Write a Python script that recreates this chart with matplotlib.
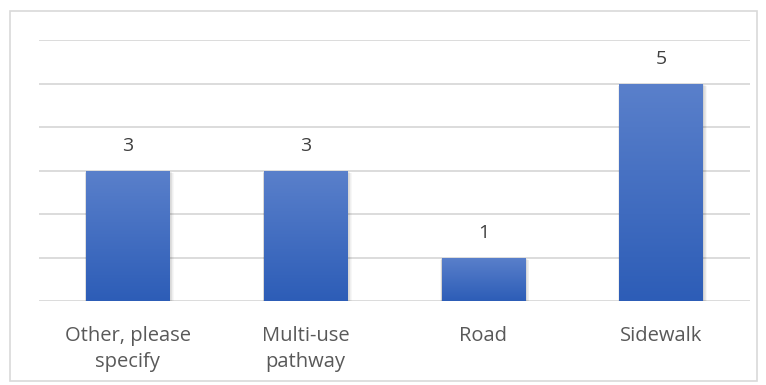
import matplotlib
matplotlib.use("Agg")
import matplotlib.pyplot as plt
import numpy as np
from matplotlib.patches import Rectangle
from matplotlib.colors import LinearSegmentedColormap

categories = ["Other, please\nspecify", "Multi-use\npathway", "Road", "Sidewalk"]
counts = [3, 3, 1, 5]

plt.rcParams['font.family'] = ['Open Sans', 'DejaVu Sans']

fig = plt.figure(figsize=(7.66, 3.85), dpi=100)
fig.patch.set_facecolor("white")

# outer chart frame
fig.add_artist(Rectangle((10 / 766, 1 - 381 / 385), 747 / 766, 370 / 385,
                         transform=fig.transFigure, fill=False,
                         edgecolor="#D9D9D9", linewidth=1.2))

ax = fig.add_axes([39 / 766, 1 - 301 / 385, 711 / 766, 261 / 385])
ax.set_xlim(-0.5, len(categories) - 0.5)
ax.set_ylim(0, 6)
ax.set_yticks(range(0, 7))
ax.yaxis.grid(True, color="#D9D9D9", linewidth=1.3)
ax.set_axisbelow(True)
for s in ax.spines.values():
    s.set_visible(False)
ax.tick_params(axis="both", length=0)
ax.set_yticklabels([])

x = np.arange(len(categories))
width = 0.47

cmap = LinearSegmentedColormap.from_list("bar", ["#2D5DB7", "#5A80CB"])
grad = np.linspace(0, 1, 256).reshape(-1, 1)

for xi, v in zip(x, counts):
    # soft drop shadow
    for k in range(6):
        off = 0.004 + k * 0.004
        ax.add_patch(Rectangle((xi - width / 2 - off * 0.3, -0.02 - k * 0.008),
                               width + off * 1.3, v + 0.0, facecolor="black",
                               alpha=0.03, edgecolor="none", zorder=2))
    bar = Rectangle((xi - width / 2, 0), width, v, facecolor="none",
                    edgecolor="none", zorder=3)
    ax.add_patch(bar)
    im = ax.imshow(grad, cmap=cmap, aspect="auto", origin="lower",
                   extent=(xi - width / 2, xi + width / 2, 0, v), zorder=3)
    im.set_clip_path(bar)
    ax.text(xi, v + 0.56, str(v), ha="center", va="center",
            fontsize=14, color="#404040")

ax.set_xlim(-0.5, len(categories) - 0.5)
ax.set_ylim(0, 6)
ax.set_xticks(x)
ax.set_xticklabels(categories, fontsize=14.5, color="#595959", linespacing=1.4)
ax.tick_params(axis="x", pad=18)

fig.savefig("out.png", dpi=100, facecolor="white")
